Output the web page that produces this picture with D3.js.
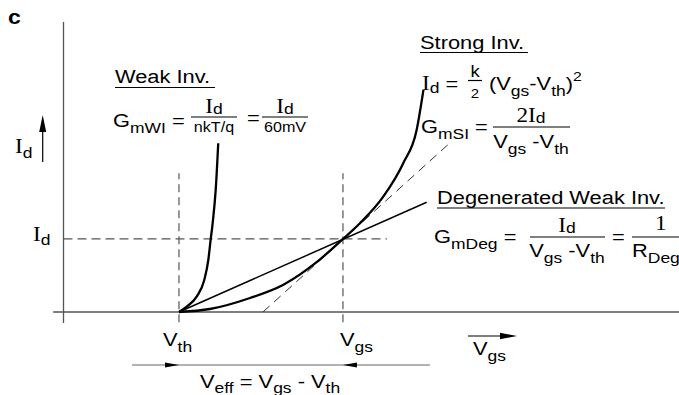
<!DOCTYPE html>
<html><head><meta charset="utf-8">
<script src="https://cdn.jsdelivr.net/npm/d3@7"></script>
<style>html,body{margin:0;padding:0;background:#fff;}svg{display:block;}</style>
</head><body>
<script>
// ---- data (arbitrary units: V normalised so Vth = 1, I normalised so Id = 1) ----
const markerV = [1.0, 2.42];          // Vth, Vgs
const markerI = [1.0];                // Id
const weakInvV = [1.000, 1.067, 1.153, 1.219, 1.254, 1.274, 1.292, 1.318, 1.340];
const weakInvI = [0.000, 0.073, 0.210, 0.438, 0.712, 0.986, 1.219, 1.671, 2.311];
const strongInvV = [1.000, 1.268, 1.615, 1.900, 2.195, 2.420, 2.567, 2.769, 2.942, 3.058, 3.117];
const strongInvI = [0.000, 0.041, 0.192, 0.370, 0.686, 1.000, 1.215, 1.579, 2.037, 2.493, 3.041];
const tangentV = [1.727, 3.346];      // G_mSI tangent (dashed)
const tangentI = [0.000, 2.315];
const degenV = [1.000, 3.145];        // degenerated weak inversion line
const degenI = [0.000, 1.503];
const axisV = [-0.09, 5.33];
const axisI = [-0.15, 3.97];

const W = 679, H = 395;
const SANS = "'Liberation Sans', Arial, Helvetica, sans-serif";
const SERIF = "'Liberation Serif', 'Times New Roman', serif";
const SX = 1.15, FS = 19;

const svg = d3.select("body").append("svg").attr("width", W).attr("height", H);

const x = d3.scaleLinear().domain([0, 5.33]).range([63.5, 679]);
const y = d3.scaleLinear().domain([0, 3.97]).range([312, 22]);

const line = d3.line().x(d => x(d[0])).y(d => y(d[1]));
const curve = d3.line().x(d => x(d[0])).y(d => y(d[1])).curve(d3.curveMonotoneX);

// axes
svg.append("line").attr("x1", x(0)).attr("x2", x(0)).attr("y1", y(axisI[0])).attr("y2", y(axisI[1]))
  .attr("stroke", "#555").attr("stroke-width", 1.3);
svg.append("line").attr("x1", x(axisV[0])).attr("x2", x(axisV[1])).attr("y1", y(0)).attr("y2", y(0))
  .attr("stroke", "#555").attr("stroke-width", 1.3);

// dashed markers
markerV.forEach(v => {
  svg.append("line").attr("x1", x(v)).attr("x2", x(v)).attr("y1", y(-0.14)).attr("y2", y(1.9))
    .attr("stroke", "#555").attr("stroke-width", 1.2).attr("stroke-dasharray", "8,5");
});
markerI.forEach(i => {
  svg.append("line").attr("x1", x(0)).attr("x2", x(2.8)).attr("y1", y(i)).attr("y2", y(i))
    .attr("stroke", "#555").attr("stroke-width", 1.2).attr("stroke-dasharray", "9,5");
});

// tangent dashed
svg.append("path").attr("d", line(d3.zip(tangentV, tangentI)))
  .attr("fill", "none").attr("stroke", "#333").attr("stroke-width", 1).attr("stroke-dasharray", "9,6");
// degenerated straight line
svg.append("path").attr("d", line(d3.zip(degenV, degenI)))
  .attr("fill", "none").attr("stroke", "#000").attr("stroke-width", 1.5);
// curves
svg.append("path").attr("d", curve(d3.zip(weakInvV, weakInvI)))
  .attr("fill", "none").attr("stroke", "#000").attr("stroke-width", 2.3);
svg.append("path").attr("d", curve(d3.zip(strongInvV, strongInvI)))
  .attr("fill", "none").attr("stroke", "#000").attr("stroke-width", 2.3);

// ---- text helpers ----
const n = t => ({t}), b = t => ({t, sub: true}), p = t => ({t, sup: true}), S = t => ({t, serif: true});
function rich(x0, y0, parts, opt = {}) {
  const size = opt.size || FS;
  const subShift = opt.subShift !== undefined ? opt.subShift : size * 0.3;
  const t = svg.append("text")
    .attr("transform", `translate(${x0},${y0}) scale(${SX},1)`)
    .attr("text-anchor", opt.anchor || "start")
    .attr("font-family", SANS).attr("font-size", size)
    .attr("font-weight", opt.bold ? "bold" : null)
    .style("white-space", "pre").attr("fill", "#000");
  let shift = 0;
  parts.forEach(q => {
    let target = 0, fs = size;
    if (q.sub) { target = subShift; fs = size * 0.8; }
    if (q.sup) { target = -size * 0.45; fs = size * 0.72; }
    if (q.serif) fs = size * 1.06;
    const ts = t.append("tspan").attr("font-size", fs).text(q.t);
    if (target - shift !== 0) ts.attr("dy", target - shift);
    if (q.serif) ts.attr("font-family", SERIF);
    shift = target;
  });
  return t;
}
function hline(x1, x2, yy, w = 1.2, col = "#000") {
  svg.append("line").attr("x1", x1).attr("x2", x2).attr("y1", yy).attr("y2", yy)
    .attr("stroke", col).attr("stroke-width", w);
}

// panel label
rich(8, 24, [n("c")], {bold: true, size: 20});

// Weak inversion
rich(115, 83, [n("Weak Inv.")]);
hline(115, 215, 87.5);
rich(113, 127, [n("G"), b("mWI"), n(" =")]);
rich(214, 113, [S("I"), b("d")], {anchor: "middle", subShift: 1});
hline(191, 237, 117);
rich(214, 132, [n("nkT/q")], {anchor: "middle", size: 14});
rich(247, 124, [n("=")]);
rich(285, 113, [S("I"), b("d")], {anchor: "middle", subShift: 1});
hline(262, 308, 117);
rich(285, 132, [n("60mV")], {anchor: "middle", size: 14});

// Strong inversion
rich(420, 49, [n("Strong Inv.")]);
hline(420, 528, 52.5);
rich(422, 90, [S("I"), b("d"), n(" =")], {subShift: 3});
rich(475, 77, [n("k")], {anchor: "middle", size: 16});
hline(468, 482, 80.5);
rich(475, 98, [n("2")], {anchor: "middle", size: 13});
rich(489, 90, [n("(V"), b("gs"), n("-V"), b("th"), n(")"), p("2")]);
rich(421, 133, [n("G"), b("mSI"), n(" =")]);
rich(531, 122, [S("2I"), b("d")], {anchor: "middle", subShift: 1});
hline(493, 570, 127);
rich(531, 148, [n("V"), b("gs"), n(" -V"), b("th")], {anchor: "middle"});

// Degenerated weak inversion
rich(437, 204, [n("Degenerated Weak Inv.")]);
hline(437, 665, 208);
rich(434, 243, [n("G"), b("mDeg"), n(" =")]);
rich(567, 232, [S("I"), b("d")], {anchor: "middle", subShift: 1});
hline(530, 605, 237);
rich(567, 257, [n("V"), b("gs"), n(" -V"), b("th")], {anchor: "middle"});
rich(612, 243, [n("=")]);
rich(655, 230, [S("1")]);
hline(632, 679, 237);
rich(632, 257, [n("R"), b("Deg")]);

// axis labels
rich(15, 153, [S("I"), b("d")], {subShift: 5});
rich(33, 241, [S("I"), b("d")], {subShift: 4});
rich(163, 346, [n("V"), b("th")]);
rich(340, 346, [n("V"), b("gs")]);
rich(473, 355, [n("V"), b("gs")]);
rich(200, 388, [n("V"), b("eff"), n(" = V"), b("gs"), n(" - V"), b("th")], {subShift: 4.5});

// arrows
function arrowHead(tipX, tipY, dir, len, half) {
  let pts;
  if (dir === "right") pts = [[tipX, tipY], [tipX - len, tipY - half], [tipX - len, tipY + half]];
  if (dir === "left") pts = [[tipX, tipY], [tipX + len, tipY - half], [tipX + len, tipY + half]];
  if (dir === "up") pts = [[tipX, tipY], [tipX - half, tipY + len], [tipX + half, tipY + len]];
  svg.append("path").attr("d", d3.line()(pts) + "Z").attr("fill", "#000");
}
// Id up arrow
svg.append("line").attr("x1", 42.7).attr("x2", 42.7).attr("y1", 162).attr("y2", 120)
  .attr("stroke", "#000").attr("stroke-width", 1.2);
arrowHead(42.7, 115, "up", 17, 3.5);
// Vgs direction arrow
hline(468, 508, 336, 1.2);
arrowHead(517, 336, "right", 17, 3.3);
// Veff span line
hline(132, 430, 365, 1.2, "#666");
arrowHead(x(markerV[0]), 365, "right", 14, 2.4);
arrowHead(x(markerV[1]), 365, "left", 14, 2.4);
</script>
</body></html>
